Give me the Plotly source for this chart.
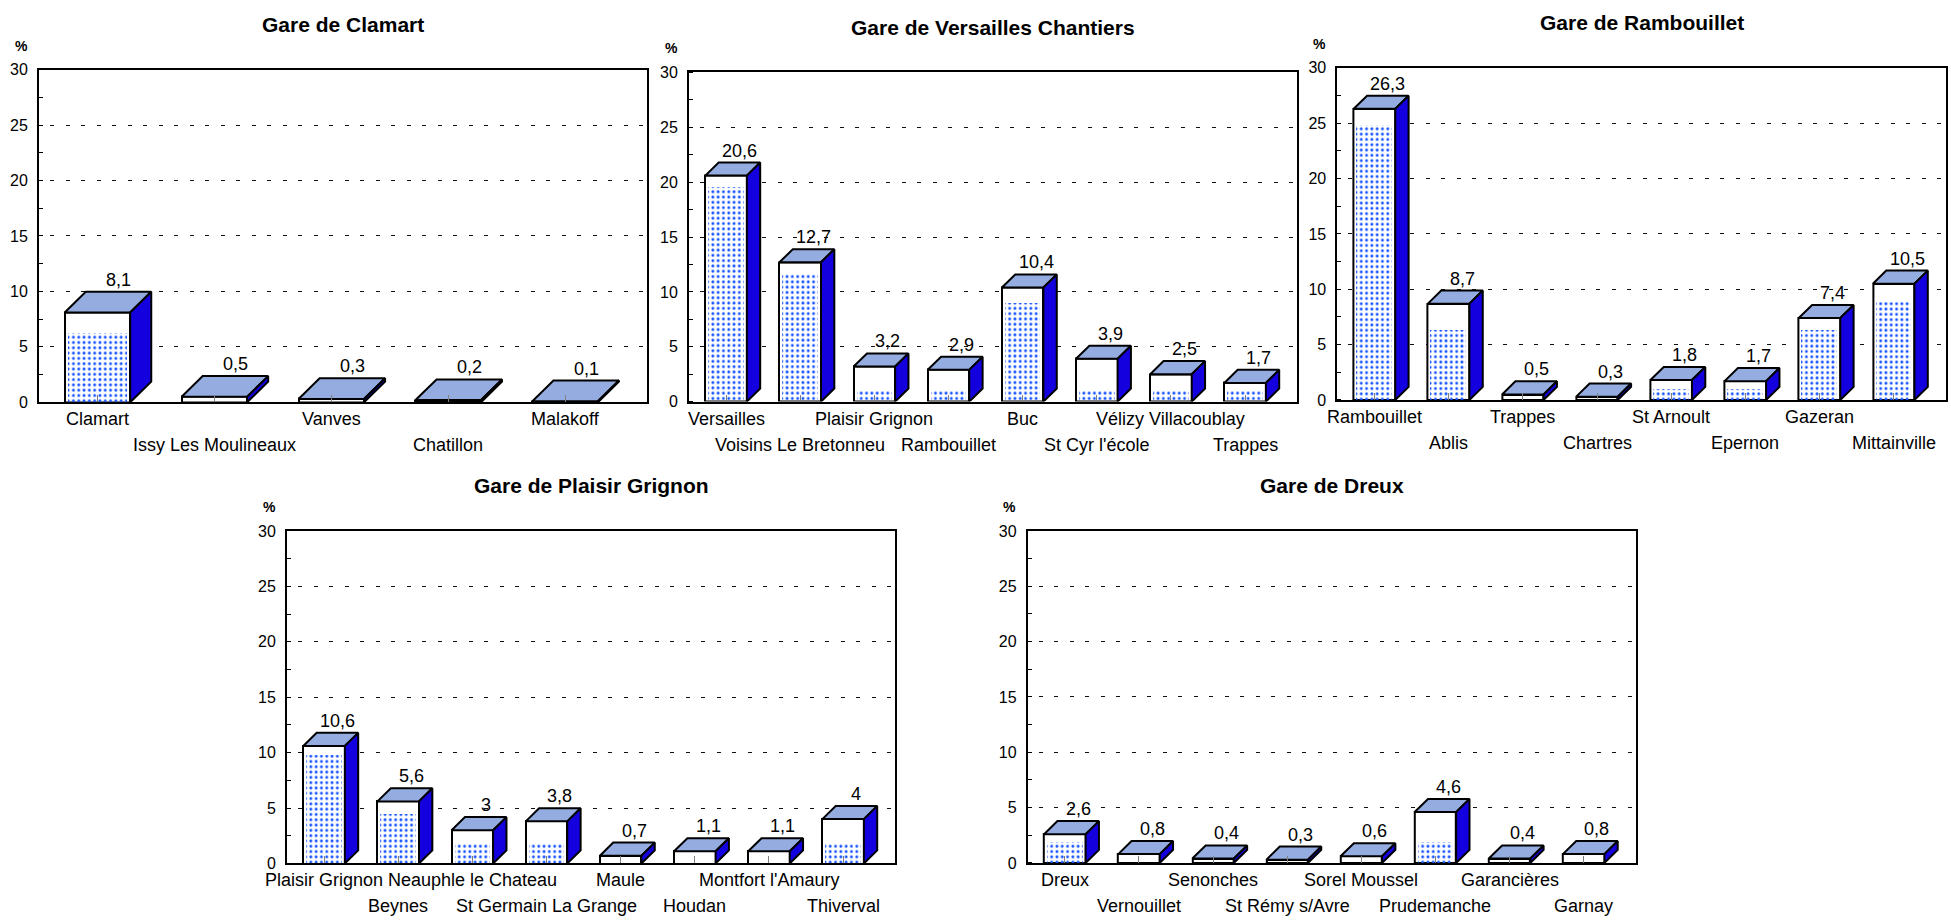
import math
import plotly.graph_objects as go

# ---------------- data ----------------
titles = [
    "Gare de Clamart",
    "Gare de Versailles Chantiers",
    "Gare de Rambouillet",
    "Gare de Plaisir Grignon",
    "Gare de Dreux",
]

clamart_labels = ["Clamart", "Issy Les Moulineaux", "Vanves", "Chatillon", "Malakoff"]
clamart_values = [8.1, 0.5, 0.3, 0.2, 0.1]

versailles_labels = ["Versailles", "Voisins Le Bretonneu", "Plaisir Grignon", "Rambouillet",
                     "Buc", "St Cyr l'école", "Vélizy Villacoublay", "Trappes"]
versailles_values = [20.6, 12.7, 3.2, 2.9, 10.4, 3.9, 2.5, 1.7]

rambouillet_labels = ["Rambouillet", "Ablis", "Trappes", "Chartres",
                      "St Arnoult", "Epernon", "Gazeran", "Mittainville"]
rambouillet_values = [26.3, 8.7, 0.5, 0.3, 1.8, 1.7, 7.4, 10.5]

plaisir_labels = ["Plaisir Grignon", "Beynes", "Neauphle le Chateau", "St Germain La Grange",
                  "Maule", "Houdan", "Montfort l'Amaury", "Thiverval"]
plaisir_values = [10.6, 5.6, 3, 3.8, 0.7, 1.1, 1.1, 4]

dreux_labels = ["Dreux", "Vernouillet", "Senonches", "St Rémy s/Avre",
                "Sorel Moussel", "Prudemanche", "Garancières", "Garnay"]
dreux_values = [2.6, 0.8, 0.4, 0.3, 0.6, 4.6, 0.4, 0.8]

y_ticks = [0, 5, 10, 15, 20, 25, 30]

# ---------------- layout / style ----------------
W, H = 1951, 924
FONT = "Liberation Sans, Arial, Helvetica, sans-serif"
TOP_COLOR = "rgb(148,172,224)"
SIDE_COLOR = "rgb(20,0,222)"
DOT_COLOR = "rgb(25,85,255)"

# plot boxes in pixels: left, top, right, bottom
boxes = [
    (39.0, 62.7, 647.0, 401.7),
    (689.0, 65.7, 1297.0, 401.0),
    (1337.4, 61.0, 1945.6, 399.3),
    (287.0, 532.7, 895.0, 871.5),
    (1027.8, 532.7, 1635.5, 871.0),
]
# the dotted fill of the front faces comes in horizontal bands
dot_base = [1.0, 1.0, 1.0, 1.86, 1.86]
DOT_BAND = 2.65

panels = [
    (clamart_labels, clamart_values),
    (versailles_labels, versailles_values),
    (rambouillet_labels, rambouillet_values),
    (plaisir_labels, plaisir_values),
    (dreux_labels, dreux_values),
]

BAR_W = 0.56     # front face width (category units)
DEPTH = 0.18     # horizontal depth offset (category units)
Y_MAX = 30


def fmt(v):
    return f"{v:g}".replace(".", ",")


fig = go.Figure()
annotations = []
layout_axes = {}

for k, ((labels, values), box, base) in enumerate(zip(panels, boxes, dot_base), start=1):
    left, top, right, bottom = box
    n = len(values)
    idx = list(range(n))
    x_range = [-0.5, n - 0.5 + 0.2]
    cat_px = (right - left) / (x_range[1] - x_range[0])
    px_per_unit = (bottom - top) / Y_MAX
    dx = DEPTH
    dy = DEPTH * cat_px / px_per_unit

    key = "" if k == 1 else str(k)
    xa = f"x{key}"
    ya = f"y{key}"

    # front faces
    fig.add_trace(go.Bar(
        x=idx, y=values, width=BAR_W, xaxis=xa, yaxis=ya,
        marker=dict(color="white", line=dict(color="black", width=2)),
        hoverinfo="skip",
    ))

    # dotted fill on the front faces
    dot_tops = []
    for v in values:
        if v - 0.3 < base:
            dot_tops.append(0)
        else:
            dot_tops.append(base + DOT_BAND * math.floor((v - 0.3 - base) / DOT_BAND))
    fig.add_trace(go.Bar(
        x=idx, y=dot_tops, width=BAR_W - 6 / cat_px, xaxis=xa, yaxis=ya,
        marker=dict(color="rgba(0,0,0,0)", line=dict(width=0),
                    pattern=dict(shape=".", fgcolor=DOT_COLOR, bgcolor="rgba(0,0,0,0)",
                                 size=5.3, solidity=0.24, fillmode="replace")),
        hoverinfo="skip",
    ))

    # top faces and side faces
    tx, ty, sx, sy = [], [], [], []
    for i, v in zip(idx, values):
        l, r = i - BAR_W / 2, i + BAR_W / 2
        tx += [l, r, r + dx, l + dx, l, None]
        ty += [v, v, v + dy, v + dy, v, None]
        sx += [r, r + dx, r + dx, r, r, None]
        sy += [0, dy, v + dy, v, 0, None]
    fig.add_trace(go.Scatter(
        x=tx, y=ty, xaxis=xa, yaxis=ya, mode="lines", fill="toself",
        fillcolor=TOP_COLOR, line=dict(color="black", width=2), hoverinfo="skip",
    ))
    fig.add_trace(go.Scatter(
        x=sx, y=sy, xaxis=xa, yaxis=ya, mode="lines", fill="toself",
        fillcolor=SIDE_COLOR, line=dict(color="black", width=2), hoverinfo="skip",
    ))

    # value labels above the back edge of each top face
    for i, v in zip(idx, values):
        annotations.append(dict(
            x=i + dx, y=v + dy, xref=xa, yref=ya, text=fmt(v), showarrow=False,
            xanchor="center", yanchor="bottom", yshift=0,
            font=dict(family=FONT, size=18, color="black"),
        ))

    # category labels on two alternating rows
    for i, lab in zip(idx, labels):
        annotations.append(dict(
            x=i, y=0, xref=xa, yref=f"{ya} domain", text=lab, showarrow=False,
            xanchor="center", yanchor="middle", yshift=-17 if i % 2 == 0 else -43,
            font=dict(family=FONT, size=18, color="black"),
        ))

    # title and unit
    annotations.append(dict(
        x=0.5, y=1, xref=f"{xa} domain", yref=f"{ya} domain", text=f"<b>{titles[k - 1]}</b>",
        showarrow=False, xanchor="center", yanchor="middle", yshift=45,
        font=dict(family=FONT, size=21, color="black"),
    ))
    annotations.append(dict(
        x=0, y=1, xref=f"{xa} domain", yref=f"{ya} domain", text="<b>%</b>",
        showarrow=False, xanchor="center", yanchor="middle", xshift=-18, yshift=24,
        font=dict(family=FONT, size=14, color="black"),
    ))

    xdom = [left / W, right / W]
    ydom = [1 - bottom / H, 1 - top / H]
    layout_axes[f"xaxis{key}"] = dict(
        domain=xdom, range=x_range, anchor=ya, showgrid=False, zeroline=False,
        showline=True, linecolor="black", linewidth=2, mirror=True,
        tickvals=idx, showticklabels=False, ticks="inside", ticklen=7,
        tickcolor="#808080", tickwidth=1, fixedrange=True,
    )
    layout_axes[f"yaxis{key}"] = dict(
        domain=ydom, range=[0, Y_MAX], anchor=xa, tickvals=y_ticks,
        showgrid=True, gridcolor="#111111", gridwidth=1, griddash="0px,11px,4px,0.5px",
        zeroline=False, showline=True, linecolor="black", linewidth=2, mirror=True,
        ticks="", ticklabelstandoff=6,
        tickfont=dict(family=FONT, size=16, color="black"),
        minor=dict(ticks="inside", ticklen=4, tickcolor="black", tickwidth=1,
                   dtick=2.5, tick0=0, showgrid=False),
        fixedrange=True,
    )

fig.update_layout(
    width=W, height=H,
    margin=dict(l=0, r=0, t=0, b=0),
    paper_bgcolor="white", plot_bgcolor="white",
    barmode="overlay", bargap=0,
    showlegend=False, hovermode=False,
    font=dict(family=FONT, color="black"),
    annotations=annotations,
    **layout_axes,
)

fig.write_html("out.html", config={"displayModeBar": False})
